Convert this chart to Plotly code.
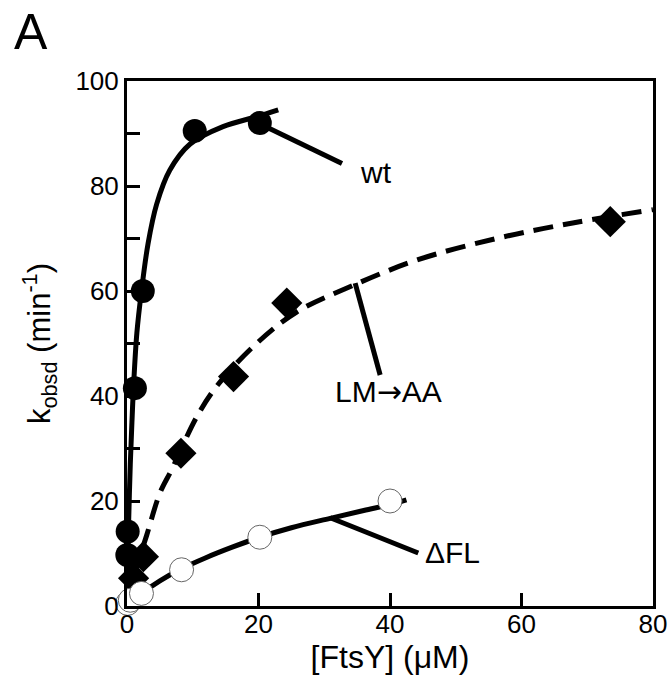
import plotly.graph_objects as go

# ---- data ----
wt_x = [0.05, 0.1, 1.2, 2.4, 10.3, 20.2]
wt_k = [9.7, 14.2, 41.5, 60.0, 90.5, 92.0]
wt_fit_x = [0, 0.1, 0.25, 0.5, 0.75, 1.0, 1.5, 2.2, 3.2, 4.5, 6.5, 9.6, 14.6, 19.7, 23.0]
wt_fit_k = [0, 7, 16, 27, 35, 42, 52, 60, 69, 76.5, 83, 88, 91.3, 93.2, 94.5]

lm_x = [1.0, 2.5, 8.2, 16.2, 24.3, 73.5]
lm_k = [5.3, 9.4, 29.1, 43.7, 57.7, 73.2]
lm_fit_x = [0, 1, 3, 5, 6.8, 10.6, 13.6, 19.7, 25.8, 33.9, 44.1, 56.2, 68, 80]
lm_fit_k = [0, 5.5, 13.5, 21.5, 26, 36, 41.8, 50, 56, 60.8, 65.9, 70, 73, 75.5]

dfl_x = [0.1, 0.5, 2.2, 8.3, 20.2, 40.0]
dfl_k = [0.5, 1.1, 2.4, 6.9, 13.1, 20.0]
dfl_fit_x = [0, 2, 5, 8.3, 12, 16, 20.2, 25, 30.9, 36, 40, 42.5]
dfl_fit_k = [0, 2.2, 4.8, 7.1, 9.2, 11.2, 13.1, 14.9, 16.7, 18.2, 19.3, 20.2]

x_ticks = [0, 20, 40, 60, 80]
y_ticks = [0, 20, 40, 60, 80, 100]

FONT = "Arial, Liberation Sans, sans-serif"
LW = 5

fig = go.Figure()

# fitted curves
fig.add_trace(go.Scatter(x=wt_fit_x, y=wt_fit_k, mode="lines", line=dict(color="black", width=LW, shape="spline"), showlegend=False, hoverinfo="skip"))
fig.add_trace(go.Scatter(x=lm_fit_x, y=lm_fit_k, mode="lines", line=dict(color="black", width=LW, dash="20px,10px", shape="spline"), showlegend=False, hoverinfo="skip"))
fig.add_trace(go.Scatter(x=dfl_fit_x, y=dfl_fit_k, mode="lines", line=dict(color="black", width=LW, shape="spline"), showlegend=False, hoverinfo="skip"))

# data points
fig.add_trace(go.Scatter(x=wt_x, y=wt_k, mode="markers", cliponaxis=False, marker=dict(symbol="circle", size=24, color="black", line=dict(width=0)), name="wt", showlegend=False))
fig.add_trace(go.Scatter(x=lm_x, y=lm_k, mode="markers", cliponaxis=False, marker=dict(symbol="diamond", size=24, color="black", line=dict(width=0)), name="LM→AA", showlegend=False))
fig.add_trace(go.Scatter(x=dfl_x, y=dfl_k, mode="markers", cliponaxis=False, marker=dict(symbol="circle", size=24, color="white", line=dict(width=1, color="#666")), name="ΔFL", showlegend=False))

# leader lines
for (x0, y0, x1, y1) in [(20.8, 91.5, 32.7, 84.3), (34.7, 61.5, 38.5, 44.0), (30.9, 16.8, 44.3, 10.1)]:
    fig.add_shape(type="line", xref="x", yref="y", x0=x0, y0=y0, x1=x1, y1=y1, line=dict(color="black", width=LW))

# series labels
fig.add_annotation(x=35.1, y=82.5, xref="x", yref="y", text="wt", showarrow=False, xanchor="left", yanchor="middle", font=dict(family=FONT, size=30, color="black"))
fig.add_annotation(x=39.7, y=40.8, xref="x", yref="y", text="LM<span style='font-family:DejaVu Sans'>→</span>AA", showarrow=False, xanchor="center", yanchor="middle", font=dict(family=FONT, size=30, color="black"))
fig.add_annotation(x=45.0, y=10.1, xref="x", yref="y", text="ΔFL", showarrow=False, xanchor="left", yanchor="middle", font=dict(family=FONT, size=30, color="black"))

# panel letter
fig.add_annotation(x=-0.218, y=1.15, xref="paper", yref="paper", text="A", showarrow=False, xanchor="left", yanchor="top", font=dict(family=FONT, size=50, color="black"))

fig.update_layout(
    width=672, height=685,
    margin=dict(l=127, r=19, t=81, b=79),
    paper_bgcolor="white", plot_bgcolor="white",
    font=dict(family=FONT, color="black"),
)
fig.update_xaxes(
    range=[0, 80], tickvals=x_ticks, ticktext=[str(v) for v in x_ticks],
    ticks="inside", ticklen=13, tickwidth=3, tickcolor="black",
    showline=True, linewidth=3, linecolor="black", mirror=True,
    showgrid=False, zeroline=False,
    tickfont=dict(family=FONT, size=26, color="black"),
    title=dict(text="[FtsY] (μM)", font=dict(family=FONT, size=32, color="black"), standoff=6),
    automargin=False,
)
try:
    fig.update_xaxes(ticklabelstandoff=-7)
except Exception:
    pass
fig.update_yaxes(
    range=[0, 100], tickvals=y_ticks, ticktext=[str(v) for v in y_ticks],
    ticks="inside", ticklen=13, tickwidth=3, tickcolor="black",
    minor=dict(tickvals=[10, 30, 50, 70, 90], ticks="inside", ticklen=13, tickwidth=3, tickcolor="black"),
    showline=True, linewidth=3, linecolor="black", mirror=True,
    showgrid=False, zeroline=False,
    tickfont=dict(family=FONT, size=26, color="black"),
    title=dict(text="k<sub>obsd</sub> (min<sup>-1</sup>)", font=dict(family=FONT, size=31, color="black"), standoff=16),
    automargin=False,
)

fig.write_html("out.html", config={"displayModeBar": False},
               post_script="document.body.style.margin='0';document.body.style.overflow='hidden';")
